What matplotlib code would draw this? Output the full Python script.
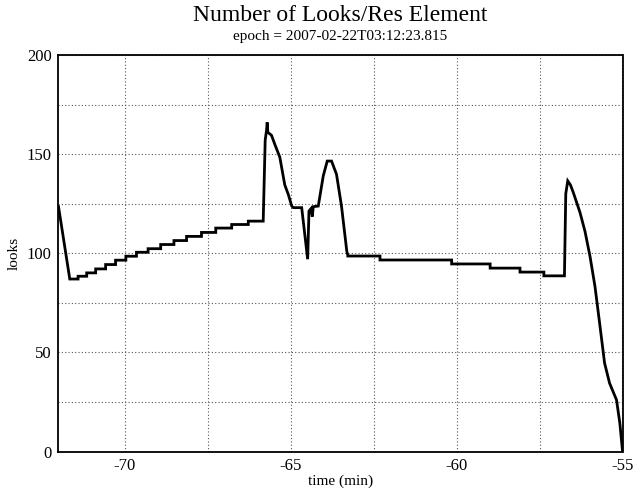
import numpy as np
import matplotlib.pyplot as plt
from matplotlib.ticker import MultipleLocator

plt.rcParams['font.family'] = ['Liberation Serif', 'DejaVu Serif']
plt.rcParams['axes.unicode_minus'] = False

# first drop at the start of the pass
start_t = [-72.0]
start_v = [123.5]

# slow staircase before the first peak (edges, levels between them)
step1_edges = [-71.66, -71.41, -71.15, -70.88, -70.58, -70.28, -69.97, -69.65,
               -69.30, -68.92, -68.52, -68.14, -67.69, -67.26, -66.78, -66.28, -65.83]
step1_levels = [87.0, 88.4, 90.1, 92.1, 94.3, 96.5, 98.5, 100.5, 102.3, 104.4,
                106.4, 108.5, 110.5, 112.7, 114.5, 116.2]

# two peaks in the middle
peak_t = [-65.77, -65.73, -65.71, -65.69, -65.58, -65.47, -65.33, -65.18, -65.07,
          -64.97, -64.92, -64.67, -64.49, -64.45, -64.39, -64.35, -64.32, -64.17,
          -64.02, -63.90, -63.77, -63.62, -63.47, -63.31, -63.28]
peak_v = [157.0, 162.0, 166.0, 161.0, 159.5, 154.5, 148.5, 134.5, 129.5,
          123.8, 123.0, 123.0, 97.0, 121.3, 122.5, 118.5, 123.5, 123.8,
          139.0, 146.5, 146.5, 139.8, 123.8, 101.0, 99.0]

# second staircase, slowly going down
step2_edges = [-63.28, -62.31, -60.15, -58.99, -58.09, -57.37, -56.75]
step2_levels = [98.6, 96.6, 94.6, 92.5, 90.5, 88.6]

# last peak and fall to zero
end_t = [-56.71, -56.65, -56.57, -56.48, -56.28, -56.13, -55.98, -55.83, -55.69,
         -55.54, -55.39, -55.18, -55.08, -55.0]
end_v = [130.0, 136.5, 134.5, 130.5, 120.5, 111.0, 98.5, 83.3, 64.8,
         44.6, 34.5, 26.0, 14.3, 0.3]


def steps(edges, levels):
    t, v = [], []
    for i, lv in enumerate(levels):
        t += [edges[i], edges[i + 1]]
        v += [lv, lv]
    return t, v


s1_t, s1_v = steps(step1_edges, step1_levels)
s2_t, s2_v = steps(step2_edges, step2_levels)
t = start_t + s1_t + peak_t + s2_t + end_t
v = start_v + s1_v + peak_v + s2_v + end_v

fig = plt.figure(figsize=(6.36, 4.9), dpi=100)
ax = fig.add_axes([58.5 / 636, 1 - 451.5 / 490, 564 / 636, 396.5 / 490])
ax.plot(t, v, color='black', linewidth=2.0, solid_joinstyle='miter')

ax.set_xlim(-72, -55)
ax.set_ylim(0, 200)
ax.xaxis.set_major_locator(MultipleLocator(5))
ax.xaxis.set_minor_locator(MultipleLocator(2.5))
ax.yaxis.set_major_locator(MultipleLocator(50))
ax.yaxis.set_minor_locator(MultipleLocator(25))
ax.grid(True, which='both', linestyle=(0, (1, 2)), color='#555555', linewidth=0.8)
ax.tick_params(which='both', length=0, labelsize=12, pad=5)
for s in ax.spines.values():
    s.set_linewidth(1.3)

ax.set_xlabel('time (min)', fontsize=11, labelpad=0)
ax.set_ylabel('looks', fontsize=11, labelpad=4)

fig.text(340.5 / 636, 1 - 21 / 490, 'Number of Looks/Res Element', ha='center', va='baseline', fontsize=17)
fig.text(340.5 / 636, 1 - 40 / 490, 'epoch = 2007-02-22T03:12:23.815', ha='center', va='baseline', fontsize=11)

fig.savefig('out.png', dpi=100)
